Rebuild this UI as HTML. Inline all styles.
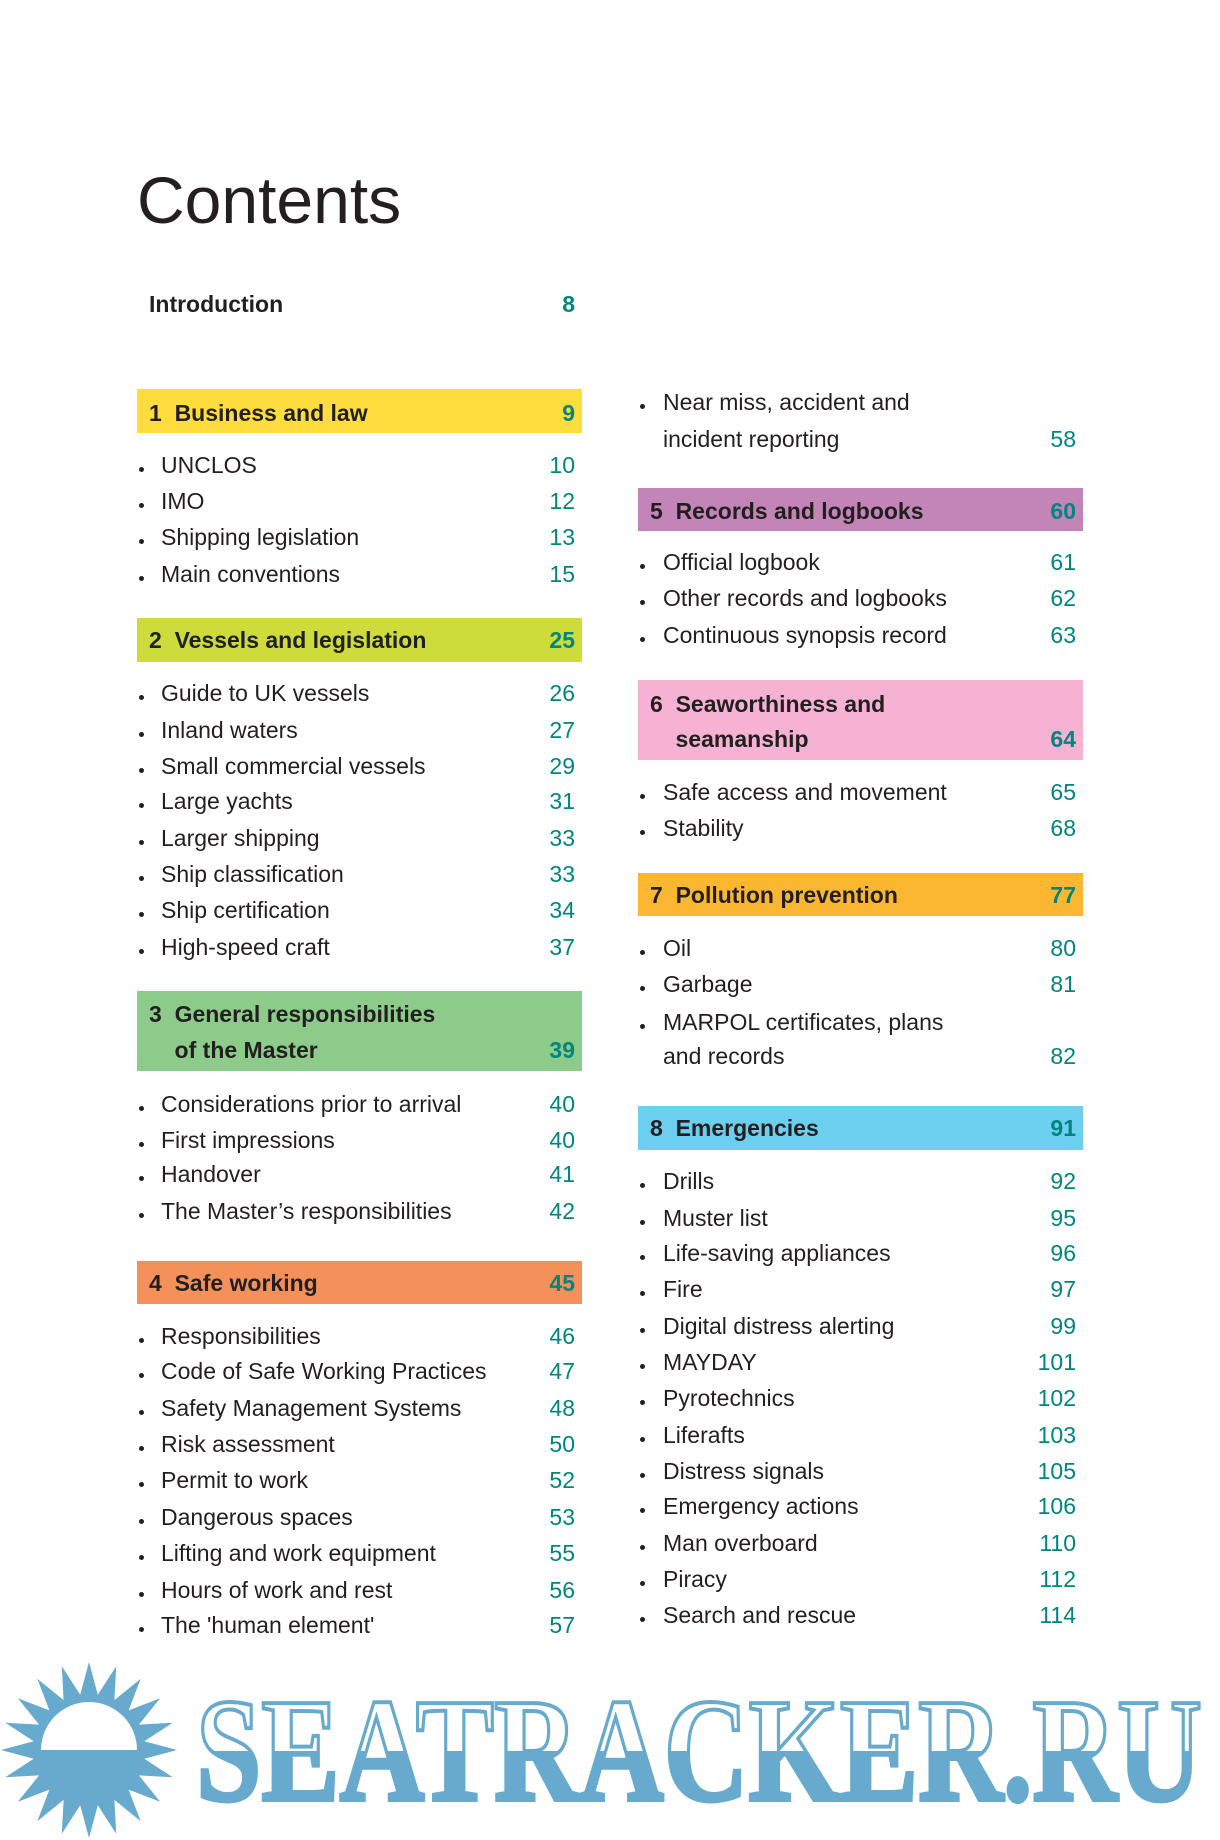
<!DOCTYPE html>
<html><head><meta charset="utf-8"><style>
html,body{margin:0;padding:0;background:#fff;}
body{width:1220px;height:1840px;position:relative;overflow:hidden;font-family:"Liberation Sans",sans-serif;color:#231f20;}
.t{position:absolute;line-height:30px;height:30px;font-size:23px;white-space:nowrap;}
.n{position:absolute;line-height:30px;height:30px;font-size:23px;color:#00857f;text-align:right;width:80px;}
.b{font-weight:bold;}
.band{position:absolute;}
.dot{position:absolute;width:5px;height:5px;border-radius:50%;background:#231f20;}
</style></head><body>
<div style="position:absolute;left:137px;top:160px;font-size:66px;line-height:80px;color:#231f20;">Contents</div>

<div class="band" style="left:137px;top:389px;width:445px;height:44px;background:#ffdd3c"></div>
<div class="band" style="left:137px;top:618px;width:445px;height:44px;background:#cddc3a"></div>
<div class="band" style="left:137px;top:991px;width:445px;height:80px;background:#8dcb8b"></div>
<div class="band" style="left:137px;top:1261px;width:445px;height:43px;background:#f4905a"></div>
<div class="band" style="left:638px;top:488px;width:445px;height:43px;background:#c384b8"></div>
<div class="band" style="left:638px;top:680px;width:445px;height:80px;background:#f5b2d3"></div>
<div class="band" style="left:638px;top:873px;width:445px;height:43px;background:#fbb732"></div>
<div class="band" style="left:638px;top:1106px;width:445px;height:44px;background:#6dcff0"></div>

<div id="c"></div>

<svg style="position:absolute;left:0;top:1640px" width="1220" height="200">
<defs>
<linearGradient id="g" x1="0" y1="0" x2="0" y2="1"><stop offset="0.5" stop-color="#fff"/><stop offset="0.5" stop-color="#67aacd"/></linearGradient>
</defs>
<polygon id="sun" fill="#67aacd" points=""/>
<path d="M41,110 A48,48 0 0 1 137,110 Z" fill="#fff"/>
<text x="196" y="160" font-family="Liberation Serif,serif" font-weight="bold" font-size="148" textLength="1006" lengthAdjust="spacingAndGlyphs" fill="url(#g)" stroke="#67aacd" stroke-width="4">SEATRACKER.RU</text>
</svg>

<script>
var L=[
[0,304,"Introduction","8",1],
[0,413,"1&nbsp; Business and law","9",1],
[0,465,"•UNCLOS","10"],[0,501,"•IMO","12"],[0,537,"•Shipping legislation","13"],[0,574,"•Main conventions","15"],
[0,640,"2&nbsp; Vessels and legislation","25",1],
[0,693,"•Guide to UK vessels","26"],[0,730,"•Inland waters","27"],[0,766,"•Small commercial vessels","29"],[0,801,"•Large yachts","31"],[0,838,"•Larger shipping","33"],[0,874,"•Ship classification","33"],[0,910,"•Ship certification","34"],[0,947,"•High-speed craft","37"],
[0,1014,"3&nbsp; General responsibilities","",1],[0,1050,"&nbsp;&nbsp;&nbsp; of the Master","39",1],
[0,1104,"•Considerations prior to arrival","40"],[0,1140,"•First impressions","40"],[0,1174,"•Handover","41"],[0,1211,"•The Master’s responsibilities","42"],
[0,1283,"4&nbsp; Safe working","45",1],
[0,1336,"•Responsibilities","46"],[0,1371,"•Code of Safe Working Practices","47"],[0,1408,"•Safety Management Systems","48"],[0,1444,"•Risk assessment","50"],[0,1480,"•Permit to work","52"],[0,1517,"•Dangerous spaces","53"],[0,1553,"•Lifting and work equipment","55"],[0,1590,"•Hours of work and rest","56"],[0,1625,"•The 'human element'","57"],
[1,402,"•Near miss, accident and",""],[1,439,"incident reporting","58"],
[1,511,"5&nbsp; Records and logbooks","60",1],
[1,562,"•Official logbook","61"],[1,598,"•Other records and logbooks","62"],[1,635,"•Continuous synopsis record","63"],
[1,704,"6&nbsp; Seaworthiness and","",1],[1,739,"&nbsp;&nbsp;&nbsp; seamanship","64",1],
[1,792,"•Safe access and movement","65"],[1,828,"•Stability","68"],
[1,895,"7&nbsp; Pollution prevention","77",1],
[1,948,"•Oil","80"],[1,984,"•Garbage","81"],[1,1022,"•MARPOL certificates, plans",""],[1,1056,"and records","82"],
[1,1128,"8&nbsp; Emergencies","91",1],
[1,1181,"•Drills","92"],[1,1218,"•Muster list","95"],[1,1253,"•Life-saving appliances","96"],[1,1289,"•Fire","97"],[1,1326,"•Digital distress alerting","99"],[1,1362,"•MAYDAY","101"],[1,1398,"•Pyrotechnics","102"],[1,1435,"•Liferafts","103"],[1,1471,"•Distress signals","105"],[1,1506,"•Emergency actions","106"],[1,1543,"•Man overboard","110"],[1,1579,"•Piracy","112"],[1,1615,"•Search and rescue","114"]
];
var h="";
L.forEach(function(r){
 var c=r[0],y=r[1],s=r[2],num=r[3],b=r[4];
 var bx=c?643:142, tx=c?663:161, hx=c?650:149, nr=c?1076:575;
 var top=y-15;
 if(b){h+='<div class="t b" style="left:'+hx+'px;top:'+top+'px">'+s+'</div>';}
 else{
  var bul=s.charAt(0)=="•"; if(bul){s=s.slice(1);h+='<div class="dot" style="left:'+(bx-3)+'px;top:'+(y+2)+'px"></div>';}
  h+='<div class="t" style="left:'+tx+'px;top:'+top+'px;font-size:23px">'+s+'</div>';
 }
 if(num)h+='<div class="n'+(b?' b':'')+'" style="left:'+(nr-80)+'px;top:'+top+'px">'+num+'</div>';
});
document.getElementById("c").innerHTML=h;
var p=[],cx=89,cy=110,N=20;
for(var i=0;i<2*N;i++){var a=Math.PI*i/N-Math.PI/2;var r=i%2?56:88;p.push((cx+r*Math.cos(a)).toFixed(1)+","+(cy+r*Math.sin(a)).toFixed(1));}
document.getElementById("sun").setAttribute("points",p.join(" "));
</script>
</body></html>
